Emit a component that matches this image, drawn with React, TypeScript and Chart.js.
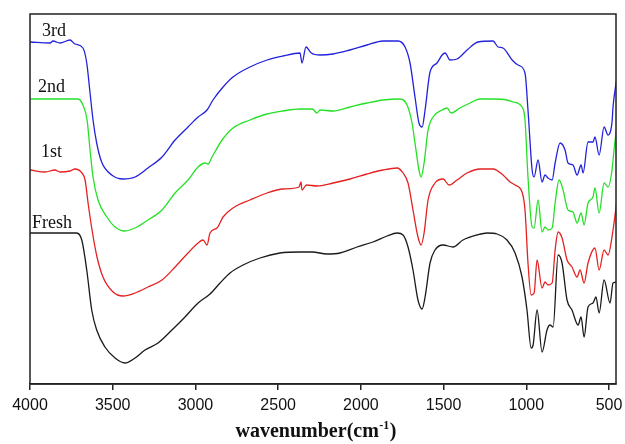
import React, { useEffect, useRef } from "react";
import { Chart, registerables } from "chart.js";

Chart.register(...registerables);

// x axis ticks (wavenumber, cm^-1)
const xTicks = [4000, 3500, 3000, 2500, 2000, 1500, 1000, 500];
const seriesNames = ["Fresh", "1st", "2nd", "3rd"];

// Fresh (black)
const freshWn = [4000, 3879, 3718, 3687, 3657, 3627, 3597, 3547, 3486, 3426, 3365, 3305, 3226, 3142, 3063, 2984, 2912, 2851, 2791, 2712, 2610, 2489, 2368, 2294, 2205, 2126, 2023, 1927, 1842, 1781, 1745, 1715, 1685, 1655, 1630, 1612, 1582, 1552, 1503, 1443, 1383, 1298, 1237, 1177, 1117, 1068, 1026, 996, 971, 959, 935, 905, 875, 857, 838, 808, 784, 754, 724, 687, 669, 651, 627, 597, 579, 560, 530, 494, 476, 452];
const freshT = [151, 151, 151, 144, 114, 74, 54, 37, 26, 21, 26, 34, 41, 54, 67, 81, 90, 101, 111, 119, 126, 131, 132, 132, 130, 131, 137, 142, 148, 151, 149, 137, 114, 84, 75, 87, 121, 134, 139, 137, 144, 149, 151, 150, 144, 131, 107, 74, 36, 39, 74, 32, 54, 59, 57, 129, 121, 84, 74, 59, 67, 47, 77, 81, 87, 71, 104, 81, 101, 102];

// 1st (red)
const firstWn = [4000, 3909, 3849, 3819, 3758, 3728, 3686, 3667, 3649, 3625, 3595, 3559, 3498, 3438, 3365, 3287, 3202, 3123, 3045, 2984, 2954, 2930, 2912, 2870, 2833, 2773, 2670, 2567, 2471, 2374, 2362, 2356, 2329, 2265, 2168, 2066, 1963, 1866, 1781, 1745, 1715, 1685, 1655, 1636, 1618, 1594, 1552, 1503, 1467, 1419, 1358, 1280, 1201, 1141, 1098, 1068, 1026, 1008, 990, 971, 953, 935, 905, 887, 869, 844, 826, 808, 784, 754, 724, 693, 675, 651, 627, 585, 560, 530, 506, 476, 452];
const firstT = [214, 212, 214, 212, 213, 215, 211, 204, 181, 154, 127, 107, 92, 88, 91, 97, 104, 117, 131, 141, 144, 139, 151, 156, 167, 176, 184, 191, 195, 197, 202, 194, 199, 198, 201, 205, 210, 214, 216, 211, 201, 174, 147, 139, 151, 184, 201, 205, 199, 204, 211, 215, 215, 209, 202, 199, 192, 174, 121, 89, 91, 124, 96, 102, 99, 101, 134, 152, 146, 124, 117, 107, 114, 101, 121, 136, 114, 134, 129, 154, 184];

// 2nd (green)
const secondWn = [4000, 3710, 3680, 3655, 3637, 3619, 3589, 3535, 3486, 3426, 3365, 3287, 3202, 3123, 3045, 2984, 2942, 2924, 2900, 2839, 2773, 2670, 2567, 2471, 2368, 2294, 2265, 2247, 2168, 2066, 1963, 1866, 1763, 1721, 1691, 1667, 1649, 1636, 1618, 1594, 1564, 1509, 1479, 1455, 1401, 1340, 1280, 1201, 1117, 1080, 1026, 1008, 990, 965, 953, 929, 905, 887, 869, 844, 826, 802, 778, 748, 718, 693, 669, 651, 627, 597, 585, 560, 530, 506, 482, 470, 452];
const secondT = [285, 285, 279, 264, 234, 207, 184, 167, 157, 153, 156, 164, 174, 191, 204, 217, 221, 220, 227, 244, 256, 264, 270, 273, 275, 275, 271, 274, 273, 277, 281, 284, 285, 279, 261, 234, 214, 207, 221, 254, 267, 274, 276, 271, 276, 281, 285, 285, 284, 282, 277, 264, 207, 157, 156, 184, 152, 157, 154, 156, 181, 204, 194, 174, 172, 161, 171, 159, 181, 187, 196, 171, 201, 197, 214, 234, 259];

// 3rd (blue)
const thirdWn = [4000, 3879, 3861, 3819, 3758, 3728, 3680, 3657, 3637, 3619, 3597, 3567, 3506, 3438, 3365, 3287, 3202, 3123, 3045, 2984, 2930, 2894, 2833, 2773, 2670, 2567, 2471, 2368, 2356, 2332, 2300, 2247, 2168, 2066, 1963, 1866, 1775, 1733, 1703, 1673, 1649, 1630, 1612, 1582, 1540, 1509, 1491, 1461, 1419, 1358, 1292, 1201, 1171, 1141, 1086, 1050, 1008, 990, 965, 953, 929, 905, 887, 869, 844, 826, 796, 766, 748, 718, 693, 669, 657, 627, 597, 585, 560, 530, 506, 482, 476, 452];
const thirdT = [342, 341, 343, 341, 344, 340, 336, 321, 291, 264, 241, 222, 209, 205, 207, 216, 227, 244, 257, 267, 274, 284, 297, 307, 317, 324, 328, 331, 321, 337, 331, 329, 330, 334, 339, 343, 343, 337, 321, 287, 261, 257, 274, 312, 321, 329, 331, 324, 325, 334, 342, 343, 337, 336, 324, 319, 311, 274, 214, 207, 224, 202, 209, 206, 204, 221, 241, 234, 221, 219, 209, 219, 211, 242, 242, 247, 229, 257, 249, 262, 277, 307];

const seriesColors = ["#1a1a1a", "#e42222", "#26e026", "#2222dc"];

export default function App() {
  const ref = useRef<HTMLCanvasElement>(null);

  useEffect(() => {
    if (!ref.current) return;
    const zip = (xs: number[], ys: number[]) => xs.map((x, i) => ({ x, y: ys[i] }));
    const allWn = [freshWn, firstWn, secondWn, thirdWn];
    const allT = [freshT, firstT, secondT, thirdT];

    const labelAnchors = [
      { x: 32, y: 228 },
      { x: 41, y: 157 },
      { x: 38, y: 92 },
      { x: 42, y: 36 },
    ];

    const decor = {
      id: "decor",
      afterDraw(chart: any) {
        const { ctx, chartArea } = chart;
        ctx.save();
        ctx.strokeStyle = "#222";
        ctx.lineWidth = 1.5;
        ctx.strokeRect(chartArea.left, chartArea.top, chartArea.right - chartArea.left, chartArea.bottom - chartArea.top);

        ctx.fillStyle = "#111";
        ctx.font = '18px "Liberation Serif"';
        ctx.textAlign = "left";
        ctx.textBaseline = "alphabetic";
        seriesNames.forEach((n, i) => {
          ctx.fillText(n, labelAnchors[i].x, labelAnchors[i].y);
        });

        // axis title with superscript
        const main = "wavenumber(cm";
        const sup = "-1";
        const close = ")";
        const bigFont = 'bold 20px "Liberation Serif"';
        const smallFont = 'bold 12px "Liberation Serif"';
        ctx.font = bigFont;
        const w1 = ctx.measureText(main).width;
        const w3 = ctx.measureText(close).width;
        ctx.font = smallFont;
        const w2 = ctx.measureText(sup).width;
        const total = w1 + w2 + w3 + 1;
        const cx = 316;
        const base = 437;
        let x = cx - total / 2;
        ctx.font = bigFont;
        ctx.fillText(main, x, base);
        x += w1;
        ctx.font = smallFont;
        ctx.fillText(sup, x + 0.5, base - 8);
        x += w2 + 1;
        ctx.font = bigFont;
        ctx.fillText(close, x, base);
        ctx.restore();
      },
    };

    const chart = new Chart(ref.current, {
      type: "line",
      data: {
        datasets: seriesNames.map((name, i) => ({
          label: name,
          data: zip(allWn[i], allT[i]),
          borderColor: seriesColors[i],
          backgroundColor: seriesColors[i],
          borderWidth: 1.3,
          pointRadius: 0,
          fill: false,
          cubicInterpolationMode: "monotone" as const,
        })),
      },
      options: {
        animation: false,
        responsive: false,
        devicePixelRatio: 1,
        layout: { padding: { left: 30, right: 9, top: 14, bottom: 0 } },
        plugins: { legend: { display: false }, tooltip: { enabled: false } },
        scales: {
          x: {
            type: "linear",
            reverse: true,
            min: 458,
            max: 4000,
            afterBuildTicks: (axis: any) => {
              axis.ticks = xTicks.map((v) => ({ value: v }));
            },
            afterFit: (axis: any) => {
              axis.height = 60;
              axis.paddingLeft = 0;
              axis.paddingRight = 0;
            },
            ticks: {
              callback: (v: any) => String(v),
              font: { family: "Liberation Sans", size: 16 },
              color: "#111",
              padding: 6,
              maxRotation: 0,
              autoSkip: false,
            },
            grid: { drawOnChartArea: false, drawTicks: true, tickLength: 6, color: "#222", lineWidth: 1.5 },
            border: { display: true, color: "#222", width: 1.5 },
          },
          y: { display: false, min: 0, max: 370 },
        },
      },
      plugins: [decor],
    });
    return () => chart.destroy();
  }, []);

  return (
    <div style={{ position: "absolute", left: 0, top: 0, width: 625, height: 444, background: "#fff" }}>
      <canvas ref={ref} width={625} height={444} />
    </div>
  );
}
